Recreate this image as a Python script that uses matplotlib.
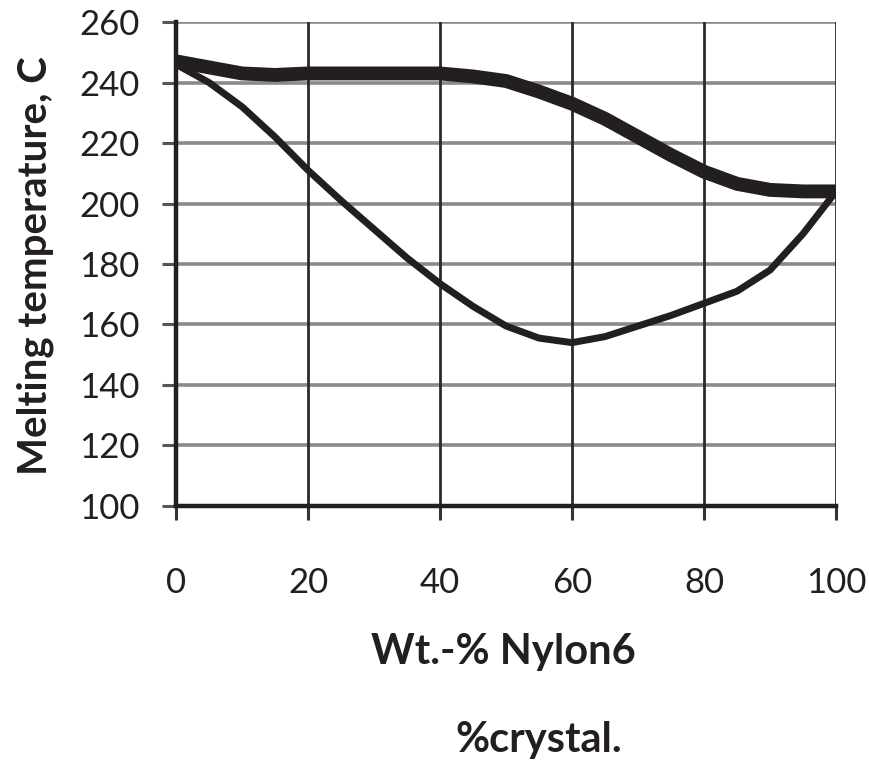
import matplotlib.pyplot as plt

# values, every 5 wt.-%
nylon = [0, 5, 10, 15, 20, 25, 30, 35, 40, 45, 50, 55, 60, 65, 70, 75, 80, 85, 90, 95, 100]
tm_thick = [247, 245, 243, 242.5, 243, 243, 243, 243, 243, 242, 240.5, 237, 233, 228,
            222, 216, 210.5, 206.5, 204.5, 204, 204]
tm_thin = [246, 240, 232, 222, 211, 201, 191.5, 182, 173.5, 166, 159.5, 155.5, 154, 156,
           159.5, 163, 167, 171, 178, 190, 204]

xticks = [0, 20, 40, 60, 80, 100]
yticks = [100, 120, 140, 160, 180, 200, 220, 240, 260]

plt.rcParams['font.family'] = ['Lato', 'DejaVu Sans']

fig = plt.figure(figsize=(8.7, 7.67), dpi=100)
ax = fig.add_axes([0.2023, 0.3403, 0.7587, 0.631])

# grid: horizontal grey, vertical dark
for y in yticks[1:]:
    ax.axhline(y, color='#8a8a8a', lw=2.6, zorder=1)
for x in xticks[1:]:
    ax.axvline(x, color='#2a2a2a', lw=2.0, zorder=1)

ax.plot(nylon, tm_thick, color='#231f20', lw=10, solid_capstyle='butt', zorder=3)
ax.plot(nylon, tm_thin, color='#231f20', lw=5, zorder=3)

ax.set_xlim(0, 100)
ax.set_ylim(100, 260)
ax.set_xticks(xticks)
ax.set_yticks(yticks)

for s in ['top', 'right']:
    ax.spines[s].set_visible(False)
ax.spines['left'].set_linewidth(3.2)
ax.spines['bottom'].set_linewidth(3.2)
ax.spines['left'].set_color('#231f20')
ax.spines['bottom'].set_color('#231f20')

ax.tick_params(axis='y', length=10, width=2.2, color='#555555', pad=16, labelsize=25,
               labelcolor='#231f20')
ax.tick_params(axis='x', length=10, width=2.2, color='#333333', pad=34, labelsize=25,
               labelcolor='#231f20')

fig.text(35 / 870, 1 - 266 / 767, 'Melting temperature, C', rotation=90, ha='center',
         va='center', fontsize=29, fontweight='bold', color='#231f20')
fig.text(503 / 870, 1 - 652 / 767, 'Wt.-% Nylon6', ha='center', va='center', fontsize=30,
         fontweight='bold', color='#231f20')
fig.text(539 / 870, 1 - 740 / 767, '%crystal.', ha='center', va='center', fontsize=30,
         fontweight='bold', color='#231f20')

fig.savefig('out.png', dpi=100)
